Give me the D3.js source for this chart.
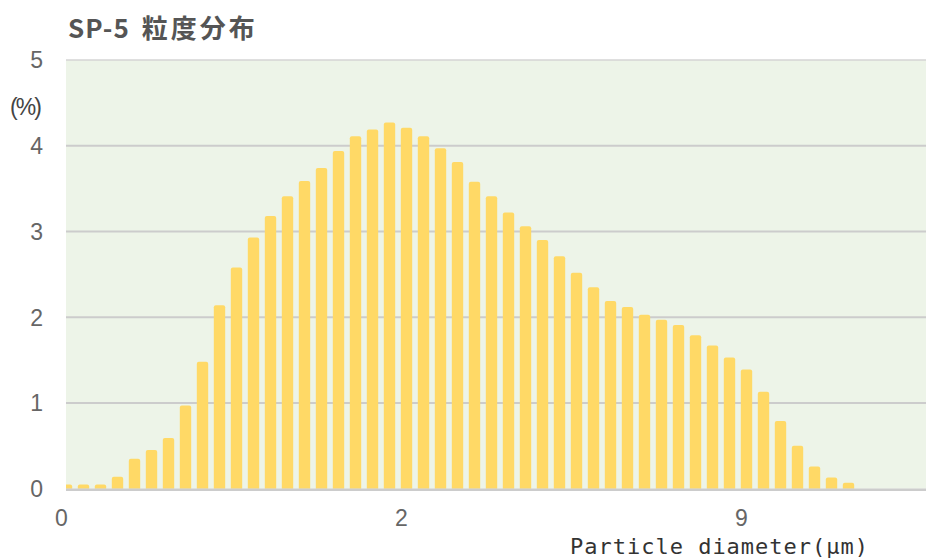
<!DOCTYPE html>
<html>
<head>
<meta charset="utf-8">
<script src="https://cdn.jsdelivr.net/npm/d3@7"></script>
<style>
  body { margin: 0; background: #fff; }
</style>
</head>
<body>
<div id="chart"></div>
<script>
// percent per size bin
var values = [0.05, 0.05, 0.05, 0.14, 0.35, 0.45, 0.59, 0.97, 1.48, 2.14,
              2.58, 2.93, 3.18, 3.41, 3.59, 3.74, 3.94, 4.11, 4.19, 4.27,
              4.21, 4.11, 3.97, 3.81, 3.58, 3.41, 3.22, 3.06, 2.90, 2.71,
              2.52, 2.35, 2.19, 2.12, 2.03, 1.97, 1.91, 1.79, 1.67, 1.53,
              1.39, 1.13, 0.79, 0.50, 0.26, 0.13, 0.07];
var bins = values.map((d, i) => i);
var xTickBins = [0, 20, 40];
var xTickLabels = ["0", "2", "9"];
var yTicks = [0, 1, 2, 3, 4, 5];

var width = 926, height = 558;
var plot = {left: 66, right: 926, top: 60, bottom: 488.7};

var svg = d3.select("#chart").append("svg")
    .attr("width", width)
    .attr("height", height);

var x = d3.scaleBand()
    .domain(bins)
    .range([58, 58 + 17 * bins.length])
    .paddingInner(0.33)
    .paddingOuter(0.165);

var y = d3.scaleLinear()
    .domain([0, 5])
    .range([plot.bottom, plot.top]);

svg.append("clipPath").attr("id", "clip")
  .append("rect")
    .attr("x", plot.left).attr("y", plot.top - 2)
    .attr("width", plot.right - plot.left).attr("height", plot.bottom - plot.top + 2);

// background
svg.append("rect")
    .attr("x", plot.left).attr("y", plot.top)
    .attr("width", plot.right - plot.left).attr("height", plot.bottom - plot.top)
    .style("fill", "#edf4e8");

// grid lines
svg.append("g").selectAll("line")
    .data(yTicks.filter(d => d > 0))
    .join("line")
    .attr("x1", plot.left).attr("x2", plot.right)
    .attr("y1", d => y(d)).attr("y2", d => y(d))
    .style("stroke", d => d == 5 ? "#d4d4d4" : "#cccccc")
    .style("stroke-width", d => d == 5 ? 1.5 : 2);

// bars
svg.append("g").attr("clip-path", "url(#clip)")
  .selectAll("rect")
    .data(values)
    .join("rect")
    .attr("x", (d, i) => x(i))
    .attr("y", d => y(d))
    .attr("width", x.bandwidth())
    .attr("height", d => y(0) - y(d) + 3)
    .attr("rx", 2)
    .style("fill", "#ffd966");

// bottom axis line
svg.append("line")
    .attr("x1", plot.left).attr("x2", plot.right)
    .attr("y1", plot.bottom + 1).attr("y2", plot.bottom + 1)
    .style("stroke", "#cccccc")
    .style("stroke-width", 2.5);

// y tick labels
svg.append("g").selectAll("text")
    .data(yTicks)
    .join("text")
    .attr("x", 43)
    .attr("y", d => y(d))
    .attr("dy", "0.36em")
    .attr("text-anchor", "end")
    .style("font-family", "'Liberation Sans Narrow', 'Liberation Sans', sans-serif")
    .style("font-size", "23px")
    .style("fill", "#666")
    .text(d => d);

svg.append("text")
    .attr("x", 10).attr("y", 115)
    .attr("textLength", 32)
    .style("font-family", "'Liberation Sans Narrow', 'Liberation Sans', sans-serif")
    .style("font-size", "23px")
    .style("fill", "#444")
    .text("(%)");

// x tick labels
svg.append("g").selectAll("text")
    .data(xTickBins)
    .join("text")
    .attr("x", d => x(d) + x.bandwidth() / 2 - 5)
    .attr("y", 526)
    .attr("text-anchor", "middle")
    .style("font-family", "'Liberation Sans Narrow', 'Liberation Sans', sans-serif")
    .style("font-size", "23px")
    .style("fill", "#666")
    .text((d, i) => xTickLabels[i]);

// x axis title
svg.append("text")
    .attr("x", 570).attr("y", 554)
    .attr("textLength", 298)
    .attr("lengthAdjust", "spacing")
    .style("font-family", "'DejaVu Sans Mono', monospace")
    .style("font-size", "22px")
    .style("fill", "#333")
    .text("Particle diameter(μm)");

// title
var title = svg.append("text")
    .attr("x", 68).attr("y", 38)
    .style("font-family", "'Noto Sans CJK JP', sans-serif")
    .style("font-weight", "bold")
    .style("font-size", "26px")
    .style("fill", "#555");
title.append("tspan").style("letter-spacing", "1px").text("SP-5");
title.append("tspan").attr("dx", 12).style("letter-spacing", "3px").text("粒度分布");
</script>
</body>
</html>
